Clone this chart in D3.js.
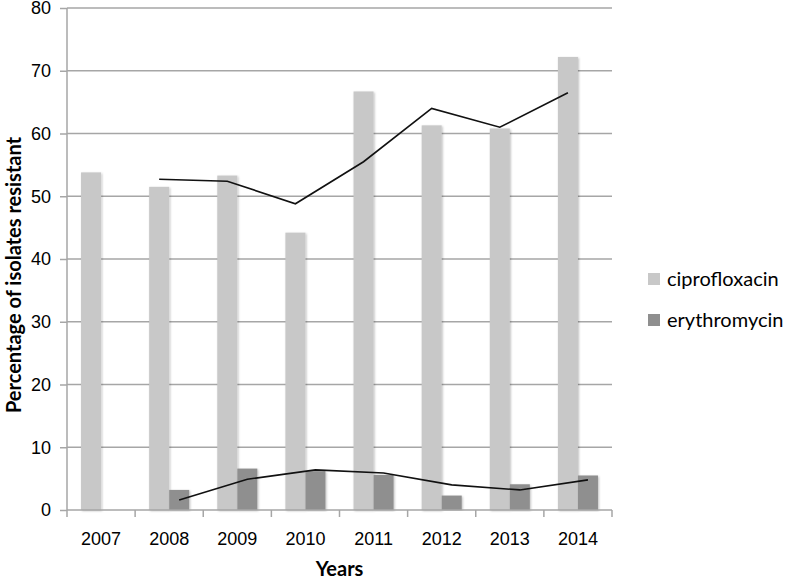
<!DOCTYPE html>
<html lang="en">
<head>
    <meta charset="UTF-8">
    <title>Resistance</title>
    <script src="https://d3js.org/d3.v7.min.js"></script>
    <style>
        body { margin: 0; background: #fff; }
        svg { font-family: Lato, "Open Sans", sans-serif; }
        .grid line { stroke: #a6a6a6; stroke-width: 1.5; }
        .axis path, .axis line { stroke: #a6a6a6; stroke-width: 1.5; }
        .axis text { font-size: 18px; fill: #000; }
    </style>
</head>
<body>
<script>
    const width = 788;
    const height = 581;

    const years = ["2007", "2008", "2009", "2010", "2011", "2012", "2013", "2014"];
    const cipro = [53.8, 51.5, 53.3, 44.2, 66.7, 61.3, 60.8, 72.2];
    const erythro = [0, 3.2, 6.6, 6.2, 5.6, 2.3, 4.1, 5.5];
    // trend lines (2-period moving average)
    const ciproTrend = [null, 52.7, 52.4, 48.8, 55.5, 64.0, 61.0, 66.5];
    const erythroTrend = [null, 1.6, 4.9, 6.4, 5.9, 4.0, 3.2, 4.8];
    const yTicks = [0, 10, 20, 30, 40, 50, 60, 70, 80];
    const seriesNames = ["ciprofloxacin", "erythromycin"];
    const seriesColors = ["#c8c8c8", "#8f8f8f"];

    const margin = {left: 67, right: 176, top: 8, bottom: 71};

    const svg = d3.select("body").append("svg")
            .attr("width", width).attr("height", height);

    const defs = svg.append("defs");
    const f = defs.append("filter").attr("id", "shadow")
            .attr("x", "-20%").attr("y", "-5%").attr("width", "140%").attr("height", "110%");
    f.append("feDropShadow").attr("dx", 1).attr("dy", 1)
            .attr("stdDeviation", 1.2).attr("flood-color", "#000").attr("flood-opacity", 0.25);

    const x = d3.scaleBand()
            .domain(years)
            .range([margin.left, width - margin.right]);

    const sub = d3.scaleBand()
            .domain(seriesNames)
            .range([0, x.bandwidth()])
            .paddingInner(0)
            .paddingOuter(0.7);

    const y = d3.scaleLinear()
            .domain([0, 80])
            .range([height - margin.bottom, margin.top]);

    // gridlines
    svg.append("g").attr("class", "grid")
        .selectAll("line")
        .data(yTicks.filter(d => d > 0))
        .enter().append("line")
        .attr("x1", margin.left).attr("x2", width - margin.right)
        .attr("y1", d => y(d)).attr("y2", d => y(d));

    // bars
    const seriesData = [cipro, erythro];
    seriesData.forEach(function(vals, si) {
        svg.append("g")
            .selectAll("rect")
            .data(vals)
            .enter().append("rect")
            .attr("x", (d, i) => x(years[i]) + sub(seriesNames[si]))
            .attr("width", sub.bandwidth())
            .attr("y", d => y(d))
            .attr("height", d => y(0) - y(d))
            .attr("fill", seriesColors[si])
            .attr("filter", d => d > 0 ? "url(#shadow)" : null);
    });

    // trend lines
    [ciproTrend, erythroTrend].forEach(function(vals, si) {
        const line = d3.line()
            .defined(d => d != null)
            .x((d, i) => x(years[i]) + sub(seriesNames[si]) + sub.bandwidth() / 2)
            .y(d => y(d));
        svg.append("path")
            .attr("d", line(vals))
            .attr("fill", "none")
            .attr("stroke", "#111")
            .attr("stroke-width", 1.6);
    });

    // y axis
    const yAxis = svg.append("g").attr("class", "axis")
        .attr("transform", `translate(${margin.left},0)`)
        .call(d3.axisLeft(y).tickValues(yTicks).tickSize(7).tickPadding(9).tickSizeOuter(0));
    yAxis.select(".domain").attr("d", `M0,${y(0)}V${y(80)}`);
    yAxis.selectAll(".tick text").attr("font-size", 19);

    // x axis
    const xAxis = svg.append("g").attr("class", "axis")
        .attr("transform", `translate(0,${y(0)})`)
        .call(d3.axisBottom(x).tickSize(0).tickPadding(22));
    xAxis.select(".domain").attr("d", `M${margin.left},0H${width - margin.right}`);
    xAxis.selectAll(".edge")
        .data(years.map(d => x(d)).concat([x(years[years.length - 1]) + x.bandwidth()]))
        .enter().append("line")
        .attr("class", "edge")
        .attr("x1", d => d).attr("x2", d => d)
        .attr("y1", 0).attr("y2", 7)
        .attr("stroke", "#a6a6a6").attr("stroke-width", 1.5);

    // axis titles
    svg.append("text")
        .attr("x", (margin.left + width - margin.right) / 2)
        .attr("y", 576)
        .attr("text-anchor", "middle")
        .attr("font-weight", "bold")
        .attr("font-size", 20)
        .text("Years");

    svg.append("text")
        .attr("transform", `translate(21,275) rotate(-90)`)
        .attr("text-anchor", "middle")
        .attr("font-weight", "bold")
        .attr("font-size", 20)
        .text("Percentage of isolates resistant");

    // legend
    const legend = svg.append("g")
        .selectAll("g")
        .data(seriesNames)
        .enter().append("g")
        .attr("transform", (d, i) => `translate(648,${279 + i * 41})`);
    legend.append("rect")
        .attr("x", 0).attr("y", -6)
        .attr("width", 12).attr("height", 12)
        .attr("fill", (d, i) => seriesColors[i]);
    legend.append("text")
        .attr("x", 19).attr("y", 0)
        .attr("dy", "0.35em")
        .attr("font-size", 20)
        .text(d => d);
</script>
</body>
</html>
